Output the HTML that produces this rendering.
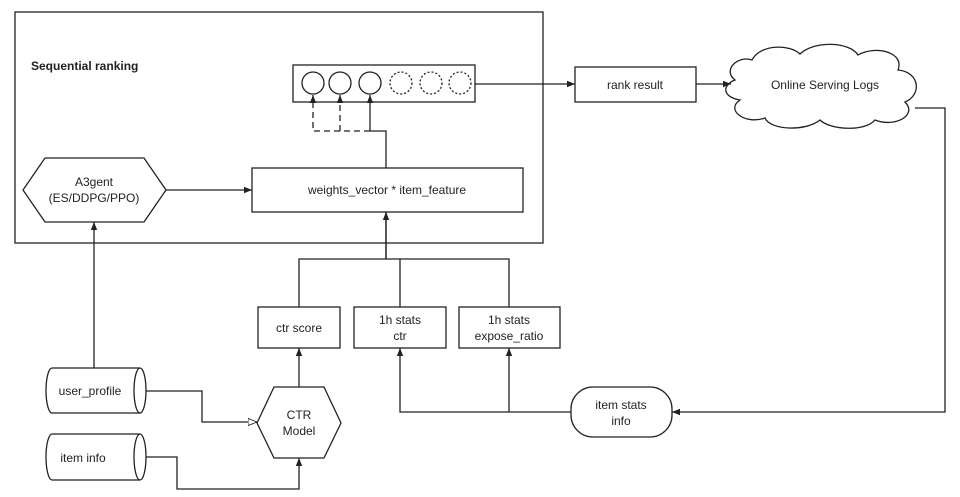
<!DOCTYPE html>
<html><head><style>
body{margin:0;background:#fff}
svg{display:block}
text{font-family:"Liberation Sans",sans-serif;font-size:12px;fill:#222}
</style></head><body>
<svg width="960" height="497" viewBox="0 0 960 497" xmlns="http://www.w3.org/2000/svg">
<defs>
<marker id="a" viewBox="0 0 10 10" refX="10" refY="5" markerWidth="8" markerHeight="8" orient="auto-start-reverse" markerUnits="userSpaceOnUse"><path d="M0,1 L10,5 L0,9 z" fill="#222"/></marker>
<marker id="o" viewBox="0 0 10 10" refX="10" refY="5" markerWidth="9" markerHeight="9" orient="auto" markerUnits="userSpaceOnUse"><path d="M0,1 L10,5 L0,9 z" fill="#fff" stroke="#222"/></marker>
</defs>
<g fill="none" stroke="#222" stroke-width="1.3">
<rect x="15" y="12" width="528" height="231"/>
<rect x="293" y="65" width="182" height="37"/>
<circle cx="313" cy="83" r="11"/><circle cx="340" cy="83" r="11"/><circle cx="370" cy="83" r="11"/>
<circle cx="401" cy="83" r="11" stroke-dasharray="2,2"/><circle cx="431" cy="83" r="11" stroke-dasharray="2,2"/><circle cx="460" cy="83" r="11" stroke-dasharray="2,2"/>
<path d="M386,168 V131 H370 V95" marker-end="url(#a)"/>
<path d="M370,131 H313 V95" stroke-dasharray="6,4" marker-end="url(#a)"/>
<path d="M340,131 V95" stroke-dasharray="6,4" marker-end="url(#a)"/>
<rect x="252" y="168" width="271" height="44"/>
<polygon points="23,190 45,158 144,158 166,190 144,222 45,222"/>
<path d="M166,190 H252" marker-end="url(#a)"/>
<path d="M475,84 H575" marker-end="url(#a)"/>
<rect x="575" y="67" width="121" height="35"/>
<path d="M696,84 H731" marker-end="url(#a)"/>
<path d="M735,80 C722,70 738,55 752,60 C760,44 790,44 800,54 C815,40 850,42 858,55 C875,45 905,52 898,70 C920,72 922,95 905,102 C918,115 895,128 875,120 C865,132 830,130 820,120 C805,132 770,130 765,118 C745,125 725,110 740,100 C722,97 722,85 735,80 z"/>
<path d="M915,108 H945 V412 H672" marker-end="url(#a)"/>
<rect x="571" y="387" width="101" height="50" rx="22"/>
<path d="M571,412 H400 V348" marker-end="url(#a)"/>
<path d="M509,412 V348" marker-end="url(#a)"/>
<rect x="258" y="307" width="82" height="41"/>
<rect x="354" y="307" width="92" height="41"/>
<rect x="459" y="307" width="101" height="41"/>
<path d="M299,307 V259 H509 V307 M400,259 V307 M386,259 V212" />
<path d="M386,259 V212" marker-end="url(#a)"/>
<polygon points="257,423 274,387 324,387 341,423 324,458 274,458"/>
<path d="M299,387 V348" marker-end="url(#a)"/>
<path d="M52,368 H140 A6,22.5 0 0 1 140,413 H52 A6,22.5 0 0 1 52,368 z"/>
<path d="M140,368 A6,22.5 0 0 0 140,413"/>
<path d="M52,434 H140 A6,23 0 0 1 140,480 H52 A6,23 0 0 1 52,434 z"/>
<path d="M140,434 A6,23 0 0 0 140,480"/>
<path d="M94,368 V222" marker-end="url(#a)"/>
<path d="M146,391 H202 V422 H257" marker-end="url(#o)"/>
<path d="M146,457 H177 V489 H299 V458" marker-end="url(#a)"/>
</g>
<text x="31" y="70" style="font-weight:bold">Sequential ranking</text>
<text x="94" y="186" text-anchor="middle">A3gent</text>
<text x="94" y="202" text-anchor="middle">(ES/DDPG/PPO)</text>
<text x="387" y="194" text-anchor="middle">weights_vector * item_feature</text>
<text x="635" y="89" text-anchor="middle">rank result</text>
<text x="825" y="89" text-anchor="middle">Online Serving Logs</text>
<text x="299" y="332" text-anchor="middle">ctr score</text>
<text x="400" y="324" text-anchor="middle">1h stats</text>
<text x="400" y="340" text-anchor="middle">ctr</text>
<text x="509" y="324" text-anchor="middle">1h stats</text>
<text x="509" y="340" text-anchor="middle">expose_ratio</text>
<text x="299" y="419" text-anchor="middle">CTR</text>
<text x="299" y="435" text-anchor="middle">Model</text>
<text x="621" y="409" text-anchor="middle">item stats</text>
<text x="621" y="425" text-anchor="middle">info</text>
<text x="90" y="395" text-anchor="middle">user_profile</text>
<text x="83" y="462" text-anchor="middle">item info</text>
</svg>
</body></html>
